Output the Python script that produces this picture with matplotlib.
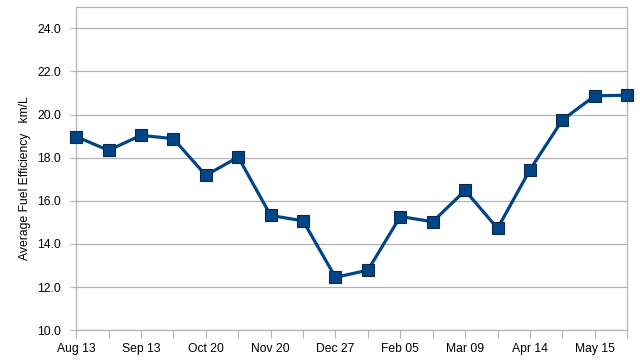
"""
## Average fuel efficiency line chart, categorical dates along x.
"""

import matplotlib
matplotlib.use('Agg')
import matplotlib.pyplot as plt

## Category dates, only every second one carries a label.
dates = ['Aug 13', '', 'Sep 13', '', 'Oct 20', '', 'Nov 20', '',
         'Dec 27', '', 'Feb 05', '', 'Mar 09', '', 'Apr 14', '',
         'May 15', '']

## Average fuel efficiency in km/L.
kmpl = [18.98, 18.34, 19.04, 18.88, 17.18, 18.03, 15.32, 15.07,
        12.45, 12.78, 15.27, 15.03, 16.48, 14.72, 17.44, 19.75,
        20.87, 20.9]

yticks = [10, 12, 14, 16, 18, 20, 22, 24]

plt.rcParams['font.family'] = ['Liberation Sans', 'DejaVu Sans']

fig, ax = plt.subplots(figsize=(6.4, 3.6), dpi=100)
fig.subplots_adjust(left=0.119, right=0.980, top=0.981, bottom=0.083)

xs = list(range(len(kmpl)))
ax.plot(xs, kmpl, color='#004586', linewidth=2.3, marker='s',
        markersize=8, markerfacecolor='#004586',
        markeredgecolor='#0b2a4a', markeredgewidth=0.8, zorder=3,
        clip_on=False)

## Axis ranges and grid.
ax.set_xlim(0, len(kmpl) - 1)
ax.set_ylim(10, 25)
ax.set_yticks(yticks)
ax.set_yticklabels(['%.1f' % v for v in yticks], fontsize=8.7)
ax.yaxis.grid(True, color='#b3b3b3', linewidth=0.9)
ax.set_axisbelow(True)

ax.set_xticks(xs)
ax.set_xticklabels(dates, fontsize=8.7)

ax.tick_params(axis='x', length=6, color='#b3b3b3', pad=3)
ax.tick_params(axis='y', length=4, color='#b3b3b3', pad=7)

for sp in ax.spines.values():
    sp.set_color('#b3b3b3')
    sp.set_linewidth(0.9)

ax.set_ylabel('Average Fuel Efficiency   km/L', fontsize=8.7)
ax.yaxis.set_label_coords(-0.082, 0.47)

fig.savefig('out.png', dpi=100, facecolor='w')
